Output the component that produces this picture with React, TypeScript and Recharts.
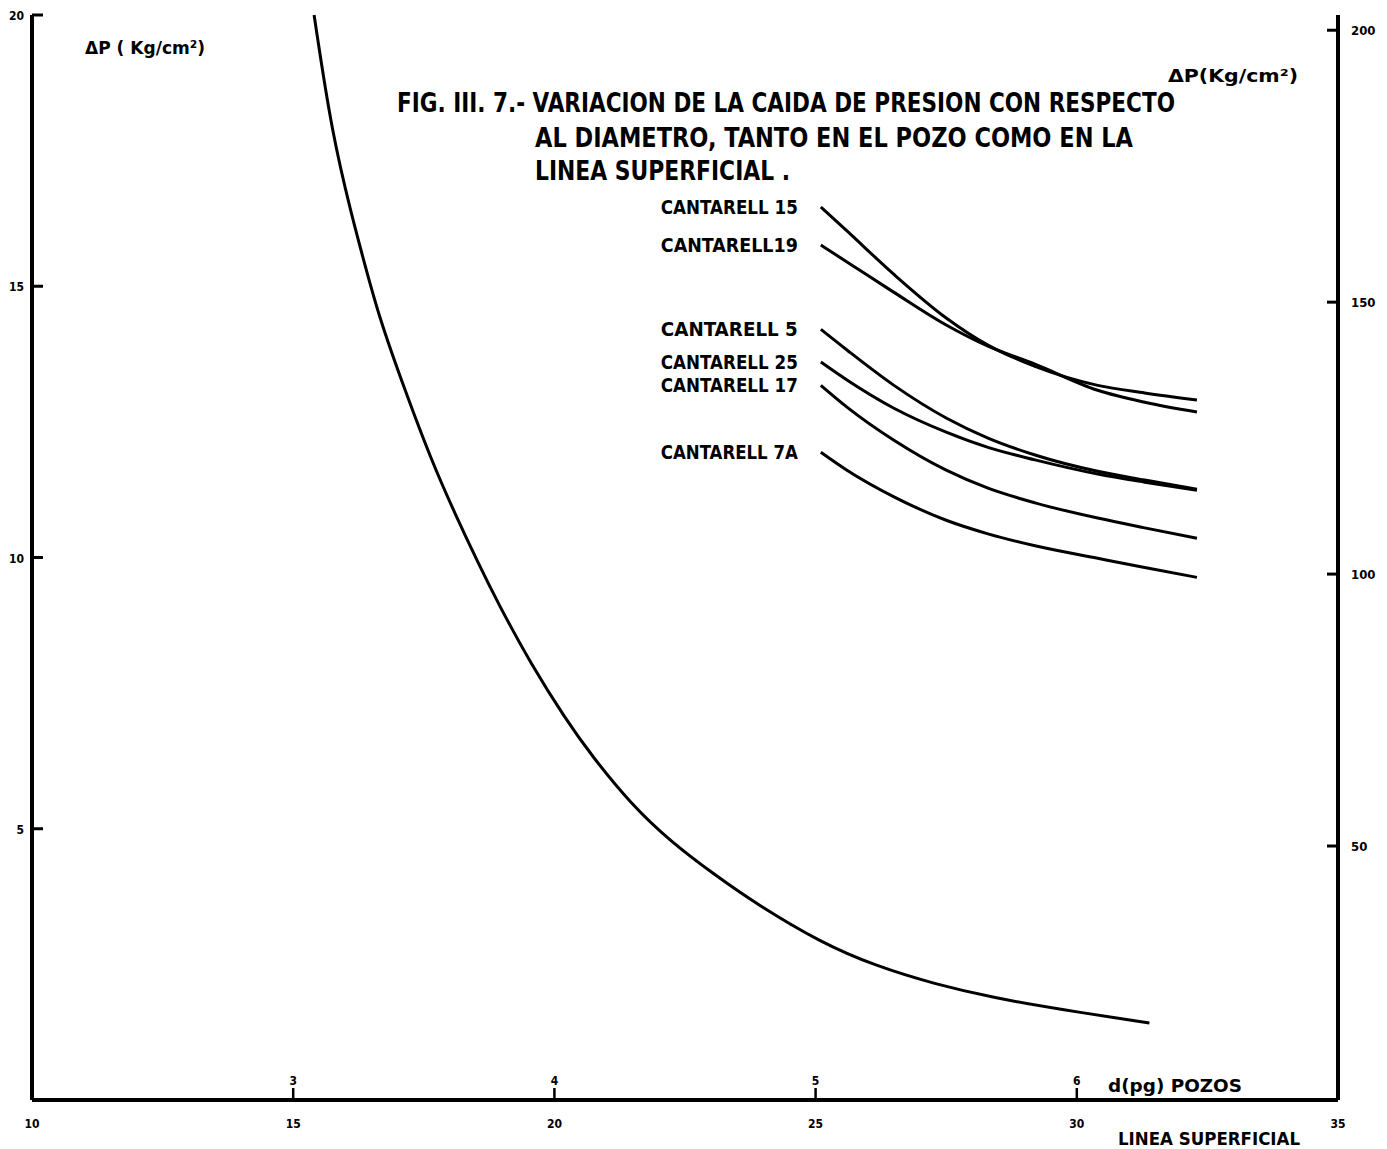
import { Line, LineChart, XAxis, YAxis } from "recharts";

const X_TICKS = [10, 15, 20, 25, 30, 35];
const POZO_TICK_LABELS = ["", "3", "4", "5", "6", ""];
const LEFT_TICKS = [5, 10, 15, 20];
const RIGHT_TICKS = [50, 100, 150, 200];

// pozo curve, read against the left axis
const POZO_X = [15.4, 15.74, 16.13, 16.3, 16.64, 17.16, 17.65, 18.1, 18.55, 18.93, 19.56, 20.21, 20.71, 21.47, 22.23, 23.07, 23.84, 25.1, 26.18, 27.27, 28.42, 29.68, 31.39];
const POZO_DP = [20.0, 17.82, 16.27, 15.66, 14.43, 13.03, 11.78, 10.8, 9.88, 9.14, 8.02, 7.03, 6.35, 5.45, 4.76, 4.15, 3.63, 2.9, 2.46, 2.14, 1.88, 1.67, 1.42];

// linea superficial curves, read against the right axis
const LINEA_X = [25.1, 25.6, 26.5, 27.5, 28.3, 29.2, 30.4, 31.3, 32.3];
const CANTARELL_15 = [167.5, 163.1, 155.1, 147.1, 142.1, 138.2, 134.7, 133.3, 132.0];
const CANTARELL_19 = [160.5, 157.4, 151.8, 145.8, 141.9, 138.6, 133.8, 131.6, 129.8];
const CANTARELL_5 = [145.0, 141.2, 134.7, 128.7, 125.0, 121.9, 118.9, 117.3, 115.6];
const CANTARELL_25 = [139.0, 135.7, 130.5, 126.1, 123.3, 121.0, 118.4, 116.9, 115.4];
const CANTARELL_17 = [134.7, 130.7, 124.6, 119.1, 115.8, 113.1, 110.3, 108.5, 106.6];
const CANTARELL_7A = [122.4, 119.1, 114.2, 109.9, 107.4, 105.2, 102.9, 101.2, 99.4];

const SERIES_NAMES = ["CANTARELL 15", "CANTARELL19", "CANTARELL 5", "CANTARELL 25", "CANTARELL 17", "CANTARELL 7A"];
const SERIES_VALUES = [CANTARELL_15, CANTARELL_19, CANTARELL_5, CANTARELL_25, CANTARELL_17, CANTARELL_7A];

const FONT = "'DejaVu Sans Condensed', 'Liberation Sans Narrow', 'DejaVu Sans', sans-serif";

const pozoData = POZO_X.map((x, i) => ({ x, y: POZO_DP[i] }));
const lineaSeries = SERIES_NAMES.map((name, s) => ({
  name,
  data: LINEA_X.map((x, i) => ({ x, y: SERIES_VALUES[s][i] })),
}));

function LeftTick({ x, y, payload }: any) {
  return (
    <g>
      <line x1={x} x2={x + 11} y1={y} y2={y} stroke="#000" strokeWidth={3} />
      <text x={x - 8} y={y + 5} textAnchor="end" fontFamily={FONT} fontWeight="bold" fontSize={12} fill="#000">
        {payload.value}
      </text>
    </g>
  );
}

function RightTick({ x, y, payload }: any) {
  return (
    <g>
      <line x1={x} x2={x - 11} y1={y} y2={y} stroke="#000" strokeWidth={3} />
      <text x={x + 13} y={y + 5} textAnchor="start" fontFamily={FONT} fontWeight="bold" fontSize={13} fill="#000">
        {payload.value}
      </text>
    </g>
  );
}

function BottomTick({ x, y, payload, index }: any) {
  const pozo = POZO_TICK_LABELS[index];
  return (
    <g>
      {pozo && <line x1={x} x2={x} y1={y} y2={y - 12} stroke="#000" strokeWidth={2.5} />}
      {pozo && (
        <text x={x} y={y - 15} textAnchor="middle" fontFamily={FONT} fontWeight="bold" fontSize={12} fill="#000">
          {pozo}
        </text>
      )}
      <text x={x} y={y + 28} textAnchor="middle" fontFamily={FONT} fontWeight="bold" fontSize={12} fill="#000">
        {payload.value}
      </text>
    </g>
  );
}

function StartLabel(name: string) {
  return (props: any) => {
    if (props.index !== 0) return null;
    return (
      <text
        x={props.x - 160}
        y={props.y + 7}
        textLength={137}
        lengthAdjust="spacingAndGlyphs"
        fontFamily={FONT}
        fontWeight="bold"
        fontSize={19}
        fill="#000"
      >
        {name}
      </text>
    );
  };
}

export default function App() {
  const textStyle = { fontFamily: FONT, fontWeight: 600, fill: "#000" } as const;
  return (
    <div style={{ position: "absolute", left: 0, top: 0, width: 1387, height: 1149, background: "#fff" }}>
      <LineChart width={1387} height={1149} margin={{ top: 15, right: 0, bottom: 0, left: 0 }}>
        <XAxis
          type="number"
          dataKey="x"
          domain={[10, 35]}
          ticks={X_TICKS}
          allowDataOverflow
          height={49}
          tickSize={0}
          tickMargin={0}
          tickLine={false}
          axisLine={{ stroke: "#000", strokeWidth: 4 }}
          tick={<BottomTick />}
          interval={0}
        />
        <YAxis
          yAxisId="left"
          orientation="left"
          type="number"
          domain={[0, 20]}
          ticks={LEFT_TICKS}
          width={32}
          tickSize={0}
          tickMargin={0}
          tickLine={false}
          axisLine={{ stroke: "#000", strokeWidth: 4 }}
          tick={<LeftTick />}
          interval={0}
        />
        <YAxis
          yAxisId="right"
          orientation="right"
          type="number"
          domain={[3.3, 202.8]}
          allowDataOverflow
          ticks={RIGHT_TICKS}
          width={49}
          tickSize={0}
          tickMargin={0}
          tickLine={false}
          axisLine={{ stroke: "#000", strokeWidth: 4 }}
          tick={<RightTick />}
          interval={0}
        />
        <Line
          yAxisId="left"
          data={pozoData}
          dataKey="y"
          type="basis"
          stroke="#000"
          strokeWidth={3}
          dot={false}
          activeDot={false}
          isAnimationActive={false}
        />
        {lineaSeries.map((s) => (
          <Line
            key={s.name}
            yAxisId="right"
            data={s.data}
            dataKey="y"
            name={s.name}
            type="monotone"
            stroke="#000"
            strokeWidth={3}
            dot={false}
            activeDot={false}
            label={StartLabel(s.name)}
            isAnimationActive={false}
          />
        ))}
      </LineChart>
      <svg width={1387} height={1149} style={{ position: "absolute", left: 0, top: 0, pointerEvents: "none" }}>
        <text x={85} y={54} fontSize={18} textLength={120} lengthAdjust="spacingAndGlyphs" {...textStyle}>
          ΔP ( Kg/cm²)
        </text>
        <text x={1168} y={82} fontSize={17} textLength={130} lengthAdjust="spacingAndGlyphs" {...textStyle}>
          ΔP(Kg/cm²)
        </text>
        <text x={397} y={112} fontSize={27} textLength={778} lengthAdjust="spacingAndGlyphs" {...textStyle}>
          FIG. III. 7.- VARIACION DE LA CAIDA DE PRESION CON RESPECTO
        </text>
        <text x={535} y={147} fontSize={27} textLength={598} lengthAdjust="spacingAndGlyphs" {...textStyle}>
          AL DIAMETRO, TANTO EN EL POZO COMO EN LA
        </text>
        <text x={535} y={180} fontSize={27} textLength={255} lengthAdjust="spacingAndGlyphs" {...textStyle}>
          LINEA SUPERFICIAL .
        </text>
        <text x={1108} y={1092} fontSize={18} textLength={134} lengthAdjust="spacingAndGlyphs" {...textStyle}>
          d(pg) POZOS
        </text>
        <text x={1118} y={1145} fontSize={18} textLength={182} lengthAdjust="spacingAndGlyphs" {...textStyle}>
          LINEA SUPERFICIAL
        </text>
      </svg>
    </div>
  );
}
